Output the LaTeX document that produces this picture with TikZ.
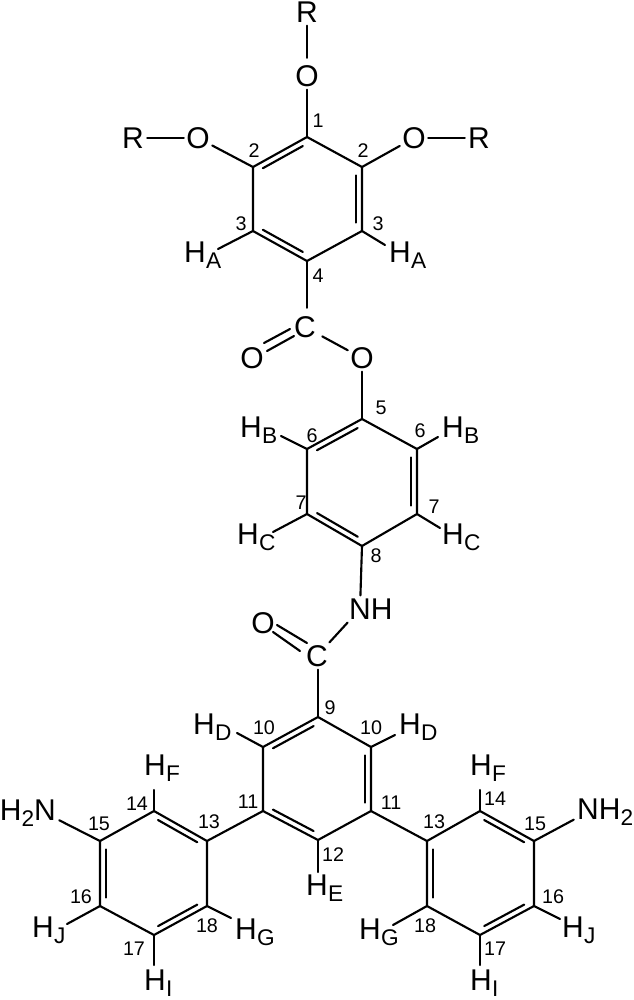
\documentclass[tikz,border=0pt]{standalone}
\usepackage{fontspec}
\setmainfont{Liberation Sans}
\usetikzlibrary{calc}
\newcommand{\subf}[1]{\rlap{\kern0.3pt\raisebox{-4.8pt}{\fontsize{17}{17}\selectfont #1}}}
\newcommand{\innerbond}[2]{\draw[bond] ($(#1)!0.13!(#2)!4.4pt!90:(#2)$) -- ($(#1)!0.87!(#2)!4.4pt!90:(#2)$);}
\tikzset{
  bond/.style={line width=1.6pt,line cap=round,line join=round,black},
  atomlabel/.style={inner sep=0pt,minimum width=21pt,minimum height=20pt,font=\fontsize{22.5}{22.5}\selectfont},
  hlabel/.style={inner sep=0pt,font=\fontsize{22.5}{22.5}\selectfont},
  numlabel/.style={inner sep=0pt,font=\fontsize{14.8}{14.8}\selectfont}
}
\begin{document}
\begin{tikzpicture}[x=0.75pt,y=-0.75pt]
\useasboundingbox (0,0) rectangle (633,1000);
% ring atoms
\coordinate (c1) at (307,137);
\coordinate (c2l) at (253,167);
\coordinate (c2r) at (362,167);
\coordinate (c3l) at (253,231);
\coordinate (c3r) at (362,231);
\coordinate (c4) at (307,261);
\coordinate (c5) at (362,419);
\coordinate (c6l) at (307,449);
\coordinate (c6r) at (417,449);
\coordinate (c7l) at (307,514);
\coordinate (c7r) at (417,514);
\coordinate (c8) at (362,546);
\coordinate (c9) at (318,717);
\coordinate (c10l) at (263,747);
\coordinate (c10r) at (371,747);
\coordinate (c11l) at (263,811);
\coordinate (c11r) at (371,811);
\coordinate (c12) at (318,840);
\coordinate (c13l) at (207,841);
\coordinate (c14l) at (154,811);
\coordinate (c15l) at (100,841);
\coordinate (c16l) at (100,906);
\coordinate (c17l) at (154,935);
\coordinate (c18l) at (207,906);
\coordinate (c13r) at (427,841);
\coordinate (c14r) at (480,811);
\coordinate (c15r) at (534,841);
\coordinate (c16r) at (534,906);
\coordinate (c17r) at (480,935);
\coordinate (c18r) at (427,906);
% heteroatom labels
\node[atomlabel] (rt) at (307,12) {R};
\node[atomlabel] (ot) at (307,76) {O};
\node[atomlabel] (rl) at (133,138) {R};
\node[atomlabel] (ol) at (198,138) {O};
\node[atomlabel] (or) at (414,138) {O};
\node[atomlabel] (rr) at (479,138) {R};
\node[inner sep=0pt,minimum width=25.5pt,minimum height=28.5pt,font=\fontsize{22.5}{22.5}\selectfont] (ca) at (305,327) {C};
\node[atomlabel] (oa) at (252,358) {O};
\node[atomlabel] (oe) at (362,358) {O};
\node[atomlabel] (nh) at (360,609) {N\rlap{H}};
\node[atomlabel] (ob) at (263,623) {O};
\node[atomlabel] (cb) at (317,656) {C};
\node[atomlabel] (nl) at (45,813) {\llap{H\raisebox{-4.8pt}{\fontsize{17}{17}\selectfont 2}}N};
\node[atomlabel] (nr) at (588,812) {N\rlap{H\raisebox{-4.8pt}{\fontsize{17}{17}\selectfont 2}}};
% hydrogen labels
\node[hlabel] (ha1) at (195,255) {H\subf{A}};
\node[hlabel] (ha2) at (400,255) {H\subf{A}};
\node[hlabel] (hb1) at (251,430) {H\subf{B}};
\node[hlabel] (hb2) at (453,430) {H\subf{B}};
\node[hlabel] (hc1) at (248,537) {H\subf{C}};
\node[hlabel] (hc2) at (453,537) {H\subf{C}};
\node[hlabel] (hd1) at (204,727) {H\subf{D}};
\node[hlabel] (hd2) at (410,727) {H\subf{D}};
\node[hlabel] (he) at (317,888) {H\subf{E}};
\node[hlabel] (hf1) at (155,768) {H\subf{F}};
\node[hlabel] (hf2) at (481,768) {H\subf{F}};
\node[hlabel] (hg1) at (246,932) {H\subf{G}};
\node[hlabel] (hg2) at (370,932) {H\subf{G}};
\node[hlabel] (hi1) at (155,983) {H\subf{I}};
\node[hlabel] (hi2) at (481,983) {H\subf{I}};
\node[hlabel] (hj1) at (43,930) {H\subf{J}};
\node[hlabel] (hj2) at (573,930) {H\subf{J}};
% free ends of C-H bonds
\coordinate (eha1) at (218,249);
\coordinate (eha2) at (385,245);
\coordinate (ehb1) at (281,436);
\coordinate (ehb2) at (438,437);
\coordinate (ehc1) at (273,532);
\coordinate (ehc2) at (440,528);
\coordinate (ehd1) at (237,733);
\coordinate (ehd2) at (395,735);
\coordinate (ehe) at (318,872);
\coordinate (ehf1) at (154,790);
\coordinate (ehf2) at (480,790);
\coordinate (ehg1) at (231,918);
\coordinate (ehg2) at (393,925);
\coordinate (ehi1) at (154,965);
\coordinate (ehi2) at (480,965);
\coordinate (ehj1) at (67,924);
\coordinate (ehj2) at (560,919);
% carbonyl double bond ends
\coordinate (ca1) at (290,329);
\coordinate (oa1) at (264,343);
\coordinate (ca2) at (294,336);
\coordinate (oa2) at (267,351);
\coordinate (cb1) at (307,643);
\coordinate (ob1) at (277,625);
\coordinate (cb2) at (300,651);
\coordinate (ob2) at (273,632);
% numbers
\node[numlabel] (n1) at (318,121) {1};
\node[numlabel] (n2l) at (254,151) {2};
\node[numlabel] (n2r) at (363,151) {2};
\node[numlabel] (n3l) at (241,224) {3};
\node[numlabel] (n3r) at (378,224) {3};
\node[numlabel] (n4) at (318,276) {4};
\node[numlabel] (n5) at (381,408) {5};
\node[numlabel] (n6l) at (312,436) {6};
\node[numlabel] (n6r) at (420,431) {6};
\node[numlabel] (n7l) at (301,503) {7};
\node[numlabel] (n7r) at (434,507) {7};
\node[numlabel] (n8) at (376,556) {8};
\node[numlabel] (n9) at (330,708) {9};
\node[numlabel] (n10l) at (264,728) {10};
\node[numlabel] (n10r) at (371,728) {10};
\node[numlabel] (n11l) at (248,802) {11};
\node[numlabel] (n11r) at (391,803) {11};
\node[numlabel] (n12) at (333,855) {12};
\node[numlabel] (n13l) at (209,822) {13};
\node[numlabel] (n13r) at (434,822) {13};
\node[numlabel] (n14l) at (137,804) {14};
\node[numlabel] (n14r) at (495,799) {14};
\node[numlabel] (n15l) at (99,824) {15};
\node[numlabel] (n15r) at (535,824) {15};
\node[numlabel] (n16l) at (81,897) {16};
\node[numlabel] (n16r) at (553,897) {16};
\node[numlabel] (n17l) at (134,949) {17};
\node[numlabel] (n17r) at (495,949) {17};
\node[numlabel] (n18l) at (207,926) {18};
\node[numlabel] (n18r) at (425,926) {18};
% rings
\draw[bond] (c1) -- (c2l) -- (c3l) -- (c4) -- (c3r) -- (c2r) -- cycle;
\draw[bond] (c5) -- (c6l) -- (c7l) -- (c8) -- (c7r) -- (c6r) -- cycle;
\draw[bond] (c9) -- (c10l) -- (c11l) -- (c12) -- (c11r) -- (c10r) -- cycle;
\draw[bond] (c13l) -- (c14l) -- (c15l) -- (c16l) -- (c17l) -- (c18l) -- cycle;
\draw[bond] (c13r) -- (c14r) -- (c15r) -- (c16r) -- (c17r) -- (c18r) -- cycle;
\innerbond{c1}{c2l}
\innerbond{c3l}{c4}
\innerbond{c3r}{c2r}
\innerbond{c5}{c6l}
\innerbond{c7l}{c8}
\innerbond{c7r}{c6r}
\innerbond{c9}{c10l}
\innerbond{c11l}{c12}
\innerbond{c11r}{c10r}
\innerbond{c13l}{c14l}
\innerbond{c15l}{c16l}
\innerbond{c17l}{c18l}
\innerbond{c15r}{c14r}
\innerbond{c13r}{c18r}
\innerbond{c17r}{c16r}
% substituent bonds
\draw[bond,shorten >=3.4pt] (rt) -- (ot);
\draw[bond] (ot) -- (c1);
\draw[bond] (rl) -- (ol);
\draw[bond] (ol) -- (c2l);
\draw[bond] (or) -- (c2r);
\draw[bond] (or) -- (rr);
\draw[bond] (c4) -- (c4 |- ca.north);
\draw[bond] (ca) -- (oe);
\draw[bond] (ca1) -- (oa1);
\draw[bond] (ca2) -- (oa2);
\draw[bond] (oe) -- (c5);
\draw[bond] (c8) -- (nh);
\draw[bond] (nh) -- (cb);
\draw[bond] (cb1) -- (ob1);
\draw[bond] (cb2) -- (ob2);
\draw[bond] (c9 |- cb.south) -- (c9);
\draw[bond] (c11l) -- (c13l);
\draw[bond] (c11r) -- (c13r);
\draw[bond] (nl) -- (c15l);
\draw[bond] (nr) -- (c15r);
% C-H bonds
\draw[bond] (c3l) -- (eha1);
\draw[bond] (c3r) -- (eha2);
\draw[bond] (c6l) -- (ehb1);
\draw[bond] (c6r) -- (ehb2);
\draw[bond] (c7l) -- (ehc1);
\draw[bond] (c7r) -- (ehc2);
\draw[bond] (c10l) -- (ehd1);
\draw[bond] (c10r) -- (ehd2);
\draw[bond] (c12) -- (ehe);
\draw[bond] (c14l) -- (ehf1);
\draw[bond] (c14r) -- (ehf2);
\draw[bond] (c18l) -- (ehg1);
\draw[bond] (c18r) -- (ehg2);
\draw[bond] (c17l) -- (ehi1);
\draw[bond] (c17r) -- (ehi2);
\draw[bond] (c16l) -- (ehj1);
\draw[bond] (c16r) -- (ehj2);
\end{tikzpicture}
\end{document}
